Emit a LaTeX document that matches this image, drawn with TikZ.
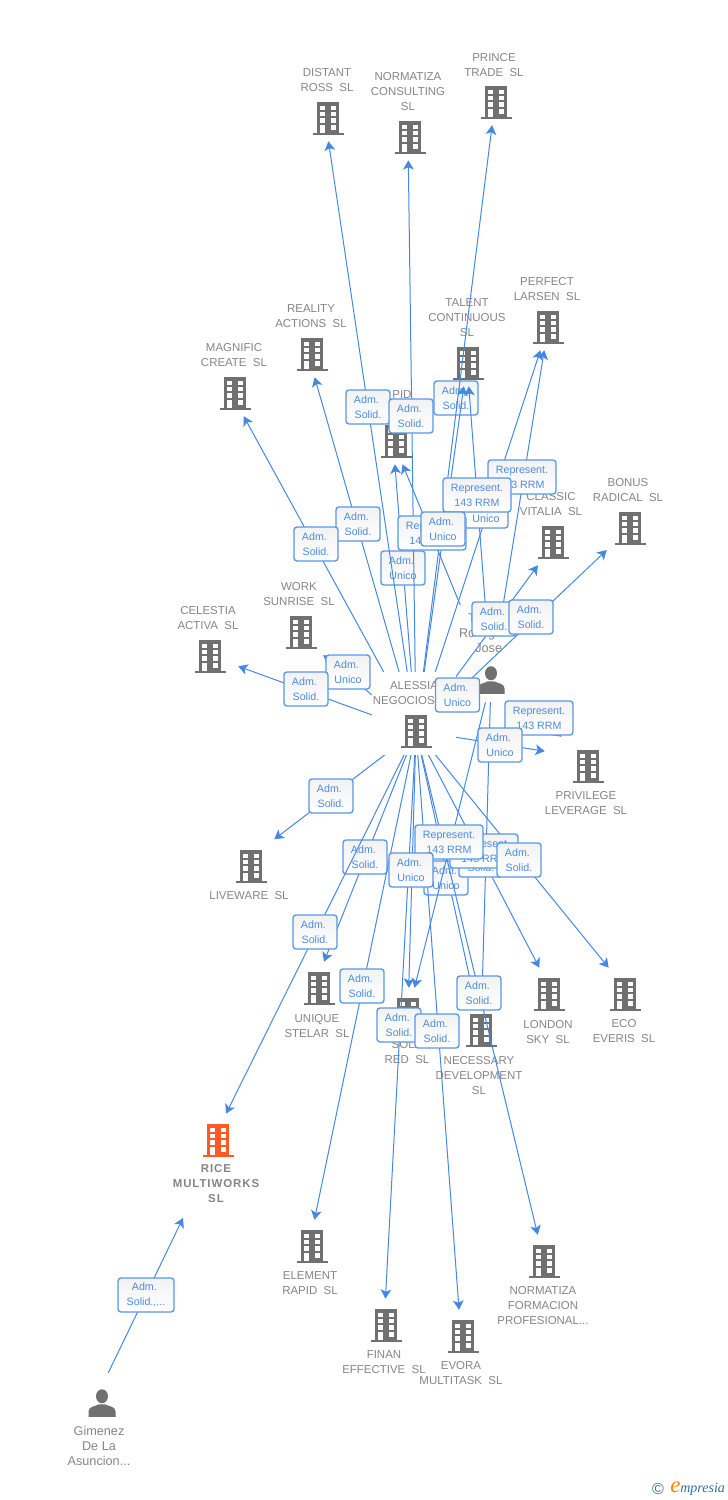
\documentclass[tikz,border=0pt]{standalone}
\usepackage{fontspec}
\setmainfont{Liberation Sans}
\newfontfamily\logofont{Liberation Serif}
\usetikzlibrary{arrows.meta}
\definecolor{linkblue}{HTML}{4488E4}
\definecolor{boxblue}{HTML}{5A96E6}
\definecolor{labelblue}{HTML}{4A8CE0}
\definecolor{icongray}{HTML}{707070}
\definecolor{textgray}{HTML}{858585}
\definecolor{riceorange}{HTML}{FF5A26}
\definecolor{logoteal}{HTML}{2F6F8F}
\newcommand{\bldg}[2][0,0]{\tikz[x=.75pt,y=-.75pt]{
	\useasboundingbox (-16,-17) rectangle (16,17);
	\begin{scope}[shift={(#1)}]
	\fill[#2] (-11,-16) rectangle (11,15);
	\fill[#2] (-15.5,14.5) rectangle (15.5,16.5);
	\foreach \wy in {-12.5,-6.2,0.2,7} {
		\fill[white] (-7.8,\wy) rectangle (-2.6,\wy+4.5);
		\fill[white] (2.6,\wy) rectangle (7.8,\wy+4.5);
	}
	\fill[white] (-7.8,8) rectangle (-2.6,14.5);
	\end{scope}
}}
\newcommand{\personicon}{\tikz[x=.75pt,y=-.75pt]{
	\fill[icongray] (0,-7) ellipse [x radius=6,y radius=7];
	\fill[icongray] (-13.5,13.5) -- (-13.5,8) .. controls (-13.5,3) and (-6,3) .. (-3,1) -- (3,1) .. controls (6,3) and (13.5,3) .. (13.5,8) -- (13.5,13.5) -- cycle;
}}
\tikzstyle{company}=[inner sep=0pt, minimum width=34.5pt, minimum height=34.5pt]
\tikzstyle{companylow}=[company, minimum height=39pt]
\tikzstyle{nametext}=[text=textgray, align=center, inner sep=0pt, yshift=-.75pt, font=\fontsize{8.6}{11.25}\selectfont]
\tikzstyle{persontext}=[nametext, font=\fontsize{9.5}{11.25}\selectfont]
\tikzstyle{mask}=[fill=white, inner sep=0pt]
\tikzstyle{rel}=[draw=boxblue, line width=1pt, rounded corners=2.2pt, top color=black!5, bottom color=white, text=labelblue, align=center, inner sep=0pt, minimum width=33pt, minimum height=25.5pt, font=\fontsize{8}{11.25}\selectfont]
\tikzstyle{relwide}=[rel, minimum width=51pt]
\tikzstyle{arrow}=[color=linkblue, line width=.75pt, -{Stealth[length=7pt,width=8pt,inset=1.8pt,color=linkblue,fill=linkblue]}]
\newcommand{\adm}{Adm.\kern2.4pt}
\begin{document}
\begin{tikzpicture}[x=.75pt,y=-.75pt]
	\useasboundingbox (0,0) rectangle (728,1500);
	% companies round the middle
	\node[company] (distant) at (325,118) {\bldg[3,0]{icongray}};
	\node[company] (normatiza) at (408,137) {\bldg[2,0]{icongray}};
	\node[company] (prince) at (495,102) {\bldg[1,0]{icongray}};
	\node[company] (perfect) at (548,327) {\bldg{icongray}};
	\node[company] (talent) at (467,363) {\bldg[1,0]{icongray}};
	\node[company] (reality) at (308,354) {\bldg[4,0]{icongray}};
	\node[company] (magnific) at (231,393) {\bldg[4,0]{icongray}};
	\node[company] (rapid) at (393,441) {\bldg[3,0]{icongray}};
	\node[company] (classic) at (555,542) {\bldg[-2,0]{icongray}};
	\node[company] (bonus) at (630,528) {\bldg{icongray}};
	\node[company] (work) at (300,636) {\bldg[1,-4]{icongray}};
	\node[company, minimum width=42pt] (celestia) at (210,656) {\bldg{icongray}};
	\node[company, minimum width=64.5pt, minimum height=31.5pt] (privilege) at (588,758) {\bldg[0,8]{icongray}};
	\node[company] (liveware) at (251,857) {\bldg[0,9]{icongray}};
	\node[companylow] (unique) at (313.5,988) {\bldg[5.5,0]{icongray}};
	\node[companylow] (sola) at (408,1014) {\bldg{icongray}};
	\node[companylow] (necessary) at (481,1030) {\bldg{icongray}};
	\node[companylow] (london) at (553,994) {\bldg[-4,0]{icongray}};
	\node[companylow] (eco) at (630,994) {\bldg[-5,0]{icongray}};
	\node[companylow] (rice) at (213,1140) {\bldg[5,0]{riceorange}};
	\node[companylow] (element) at (309,1246) {\bldg[3,0]{icongray}};
	\node[companylow] (finan) at (384,1325) {\bldg[2,0]{icongray}};
	\node[companylow] (evora) at (461,1336) {\bldg[2,0]{icongray}};
	\node[companylow] (formacion) at (544,1261) {\bldg{icongray}};
	\node[inner sep=0pt, minimum size=28.5pt] (gimenez) at (99,1392) {};
	\node[inner sep=0pt] (gimenezicon) at (102,1403) {\personicon};
	\coordinate (ricefoot) at (183,1218);
	\coordinate (alessia) at (416,731);
	\coordinate (jose) at (491,680);
	% names
	\node[nametext] (distanttext) at (327,79.5) {DISTANT\\ROSS\ \ SL};
	\node[nametext] (normatizatext) at (408,91) {NORMATIZA\\CONSULTING\\SL};
	\node[nametext] (princetext) at (494,64.5) {PRINCE\\TRADE\ \ SL};
	\node[nametext] (perfecttext) at (547,288.5) {PERFECT\\LARSEN\ \ SL};
	\node[nametext] (talenttext) at (467,317) {TALENT\\CONTINUOUS\\SL};
	\node[nametext] (realitytext) at (311,315.5) {REALITY\\ACTIONS\ \ SL};
	\node[nametext] (magnifictext) at (234,354.5) {MAGNIFIC\\CREATE\ \ SL};
	\node[nametext] (rapidtext) at (394,394) {\hphantom{RA}PID};
	\node[nametext] (classictext) at (551,503.5) {CLASSIC\\VITALIA\ \ SL};
	\node[nametext] (bonustext) at (628,489.5) {BONUS\\RADICAL\ \ SL};
	\node[nametext] (worktext) at (299,593.5) {WORK\\SUNRISE\ \ SL};
	\node[nametext] (celestiatext) at (208,617.5) {CELESTIA\\ACTIVA\ \ SL};
	\node[nametext] (privilegetext) at (586,802.5) {PRIVILEGE\\LEVERAGE\ \ SL};
	\node[nametext] (livewaretext) at (249,895) {LIVEWARE\ \ SL};
	\node[nametext] (uniquetext) at (317,1025.5) {UNIQUE\\STELAR\ \ SL};
	\node[nametext] (solatext) at (407,1051.5) {SOLA\\RED\ \ SL};
	\node[nametext] (necessarytext) at (479,1075) {NECESSARY\\DEVELOPMENT\\SL};
	\node[nametext] (londontext) at (548,1031.5) {LONDON\\SKY\ \ SL};
	\node[nametext] (ecotext) at (624,1030.5) {ECO\\EVERIS\ \ SL};
	\node[nametext, font=\fontsize{8.6}{11.25}\selectfont\bfseries\addfontfeature{LetterSpace=8}] (ricetext) at (216,1183) {RICE\\MULTIWORKS\\SL};
	\node[nametext] (elementtext) at (310,1282.5) {ELEMENT\\RAPID\ \ SL};
	\node[nametext] (finantext) at (384,1361.5) {FINAN\\EFFECTIVE\ \ SL};
	\node[nametext] (evoratext) at (461,1372.5) {EVORA\\MULTITASK\ \ SL};
	\node[nametext] (formaciontext) at (543,1305) {NORMATIZA\\FORMACION\\PROFESIONAL...};
	\node[persontext] (gimeneztext) at (99,1445) {Gimenez\\De La\\Asuncion...};
	% links that lie over their neighbours' boxes come after these
	\foreach \to in {rapid, unique, necessary} {
		\path [arrow] (alessia) edge (\to);
	}
	\node[rel] (admprince) at (456,398) {\adm\\Solid.};
	\node[rel] (unicorapid) at (403,568) {\adm\\Unico};
	\node[rel] (admunique) at (365,857) {\adm\\Solid.};
	\node[rel] (uniconecessary) at (446,878) {\adm\\Unico};
	\foreach \to in {talent, perfect, rapid, sola, necessary, privilege, alessia} {
		\path [arrow] (jose) edge (\to);
	}
	\node[mask, minimum width=52.5pt, minimum height=72.75pt] (josemask) at (490,653.5) {};
	\foreach \to in {distant, normatiza, prince, talent, perfect, reality, magnific, classic, bonus, work, celestia, privilege, liveware, sola, rice, element, finan, evora, formacion, london, eco} {
		\path [arrow] (alessia) edge (\to);
	}
	\path [arrow] (gimenez) edge (ricefoot);
	% the two sources go over the ends of their links
	\node[mask, minimum width=63pt, minimum height=62.25pt] (alessiamask) at (414,713.5) {};
	\node[inner sep=0pt] (alessiaicon) at (alessia) {\bldg{icongray}};
	\node[nametext] (alessiatext) at (414,692) {ALESSIA\\NEGOCIOS\hphantom{\ \ SL}};
	\node[inner sep=0pt] (joseicon) at (jose) {\personicon};
	\node[persontext] (josetext) at (488.7,632) {T\kern25.2pt\\Ro\kern9.6pt g\kern17.5pt\\Jose};
	% labels, lowest first
	\node[rel] (admdistant) at (368,407) {\adm\\Solid.};
	\node[rel] (admnormatiza) at (411,416) {\adm\\Solid.};
	\node[rel] (admreality) at (358,524) {\adm\\Solid.};
	\node[rel] (admmagnific) at (316,544) {\adm\\Solid.};
	\node[relwide] (repperfect) at (522,477) {Represent.\\143 RRM};
	\node[rel] (unicoperfect) at (486,511) {\adm\\Unico};
	\node[relwide] (reptalent) at (477,495) {Represent.\\143 RRM};
	\node[relwide] (reprapid) at (432,533) {Represent.\\143 RRM};
	\node[rel] (unicotalent) at (443,529) {\adm\\Unico};
	\node[rel] (admclassic) at (494,619) {\adm\\Solid.};
	\node[rel] (admbonus) at (531,617) {\adm\\Solid.};
	\node[rel] (unicowork) at (348,672) {\adm\\Unico};
	\node[rel] (admcelestia) at (306,689) {\adm\\Solid.};
	\node[rel] (unicojose) at (457.5,695) {\adm\\Unico};
	\node[relwide] (repprivilege) at (539,718) {Represent.\\143 RRM};
	\node[rel] (unicoprivilege) at (500,745) {\adm\\Unico};
	\node[rel] (admliveware) at (331,796) {\adm\\Solid.};
	\node[rel] (admlondon) at (481,860) {\adm\\Solid.};
	\node[relwide] (repnecessary) at (484,851) {Represent.\\143 RRM};
	\node[rel] (admeco) at (519,860) {\adm\\Solid.};
	\node[relwide] (repsola) at (449,842) {Represent.\\143 RRM};
	\node[rel] (unicosola) at (411,870) {\adm\\Unico};
	\node[rel] (admrice) at (315,932) {\adm\\Solid.};
	\node[rel] (admelement) at (362,986) {\adm\\Solid.};
	\node[rel] (admformacion) at (479,993) {\adm\\Solid.};
	\node[rel] (admfinan) at (399,1025) {\adm\\Solid.};
	\node[rel] (admevora) at (437,1031) {\adm\\Solid.};
	\node[rel, minimum width=42pt] (admgimenez) at (146,1295) {Adm.\kern2.4pt\\Solid.,...};
	% logo
	\node[text=logoteal, inner sep=0pt, font=\fontsize{12}{12}\selectfont] (logomark) at (658,1489) {©};
	\node[text=logoteal, inner sep=0pt, anchor=west, font=\logofont\itshape\fontsize{10.5}{12}\selectfont] (logoname) at (670,1489) {{\color{orange}\fontsize{17}{12}\selectfont e}mpresia};
\end{tikzpicture}
\end{document}
